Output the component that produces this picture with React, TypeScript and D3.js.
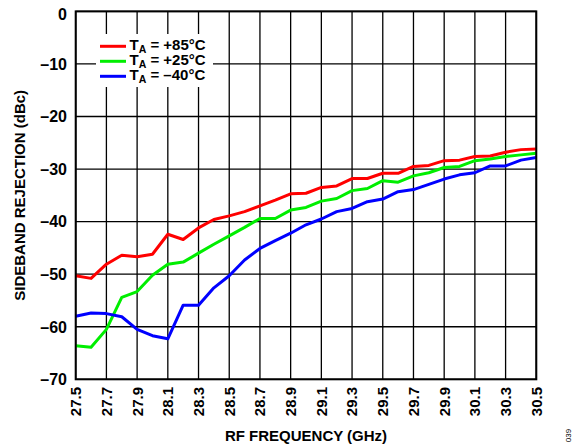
import React from "react";
import * as d3 from "d3";

const freqs = [27.5, 27.6, 27.7, 27.8, 27.9, 28.0, 28.1, 28.2, 28.3, 28.4, 28.5, 28.6, 28.7, 28.8, 28.9, 29.0, 29.1, 29.2, 29.3, 29.4, 29.5, 29.6, 29.7, 29.8, 29.9, 30.0, 30.1, 30.2, 30.3, 30.4, 30.5];

const hot85 = [-50.3, -50.8, -48.1, -46.4, -46.7, -46.2, -42.4, -43.4, -41.2, -39.6, -38.9, -38.1, -37.0, -35.9, -34.7, -34.6, -33.5, -33.2, -31.8, -31.8, -30.8, -30.8, -29.5, -29.3, -28.4, -28.3, -27.6, -27.5, -26.8, -26.3, -26.2];
const room25 = [-63.6, -63.9, -60.5, -54.4, -53.3, -50.2, -48.1, -47.7, -46.0, -44.3, -42.7, -41.1, -39.4, -39.4, -37.8, -37.3, -36.1, -35.6, -34.1, -33.7, -32.2, -32.5, -31.3, -30.7, -29.7, -29.5, -28.4, -28.1, -27.6, -27.3, -27.0];
const cold40 = [-58.0, -57.4, -57.5, -58.1, -60.5, -61.7, -62.3, -55.9, -55.9, -52.6, -50.3, -47.3, -45.1, -43.6, -42.2, -40.6, -39.5, -38.1, -37.5, -36.2, -35.7, -34.3, -33.9, -32.9, -31.9, -31.1, -30.7, -29.4, -29.4, -28.3, -27.8];

const xTicks = [27.5, 27.7, 27.9, 28.1, 28.3, 28.5, 28.7, 28.9, 29.1, 29.3, 29.5, 29.7, 29.9, 30.1, 30.3, 30.5];
const yTicks = [0, -10, -20, -30, -40, -50, -60, -70];

const seriesList = [
  { name: "+85°C", values: hot85, color: "#ff0000" },
  { name: "+25°C", values: room25, color: "#00ee00" },
  { name: "–40°C", values: cold40, color: "#0000ff" },
];

const FONT = "'Liberation Sans', Arial, sans-serif";

export default function App() {
  const x = d3.scaleLinear().domain([27.5, 30.5]).range([75.7, 536.3]);
  const y = d3.scaleLinear().domain([-70, 0]).range([379.3, 11.4]);
  const line = d3
    .line<number>()
    .x((_, i) => x(freqs[i]))
    .y((d) => y(d));

  const [x0, x1] = x.range();
  const [y0, y1] = y.range();

  return (
    <svg
      width={572}
      height={446}
      style={{ position: "absolute", left: 0, top: 0, background: "#fff" }}
      fontFamily={FONT}
    >
      <rect x={0} y={0} width={572} height={446} fill="#fff" />
      {xTicks.map((t) => (
        <line key={"gx" + t} x1={x(t)} x2={x(t)} y1={y1} y2={y0} stroke="#000" strokeWidth={1.3} />
      ))}
      {yTicks.map((t) => (
        <line key={"gy" + t} x1={x0} x2={x1} y1={y(t)} y2={y(t)} stroke="#000" strokeWidth={1.3} />
      ))}
      <rect x={96} y={34} width={117} height={53} fill="#fff" />
      {seriesList.map((s) => (
        <path
          key={s.name}
          d={line(s.values) || ""}
          fill="none"
          stroke={s.color}
          strokeWidth={3}
          strokeLinejoin="round"
        />
      ))}
      <rect x={x0} y={y1} width={x1 - x0} height={y0 - y1} fill="none" stroke="#000" strokeWidth={2} />
      {seriesList.map((s, i) => (
        <g key={"lg" + s.name}>
          <line x1={100} x2={126} y1={46.3 + i * 15} y2={46.3 + i * 15} stroke={s.color} strokeWidth={3} />
          <text x={129.5} y={50 + i * 15} fontSize={15} fontWeight="bold" fill="#000">
            T
            <tspan fontSize={10.5} dy={3}>A</tspan>
            <tspan dy={-3}>{" = " + s.name}</tspan>
          </text>
        </g>
      ))}
      {yTicks.map((t) => (
        <text
          key={"yl" + t}
          x={67}
          y={t === 0 ? y(t) + 2.5 : y(t)}
          dy="0.36em"
          textAnchor="end"
          fontSize={16}
          fontWeight="bold"
          fill="#000"
        >
          {t === 0 ? "0" : "–" + Math.abs(t)}
        </text>
      ))}
      {xTicks.map((t) => (
        <text
          key={"xl" + t}
          transform={`translate(${x(t)},${387}) rotate(-90)`}
          dy="0.36em"
          textAnchor="end"
          fontSize={15}
          fontWeight="bold"
          fill="#000"
        >
          {t.toFixed(1)}
        </text>
      ))}
      <text x={306} y={441} textAnchor="middle" fontSize={15} fontWeight="bold" fill="#000">
        RF FREQUENCY (GHz)
      </text>
      <text
        transform={`translate(24.5,${(y0 + y1) / 2}) rotate(-90)`}
        textAnchor="middle"
        fontSize={15}
        fontWeight="bold"
        fill="#000"
      >
        SIDEBAND REJECTION (dBc)
      </text>
      <text transform="translate(571,435.5) rotate(-90)" textAnchor="middle" fontSize={8} fill="#000">
        039
      </text>
    </svg>
  );
}
